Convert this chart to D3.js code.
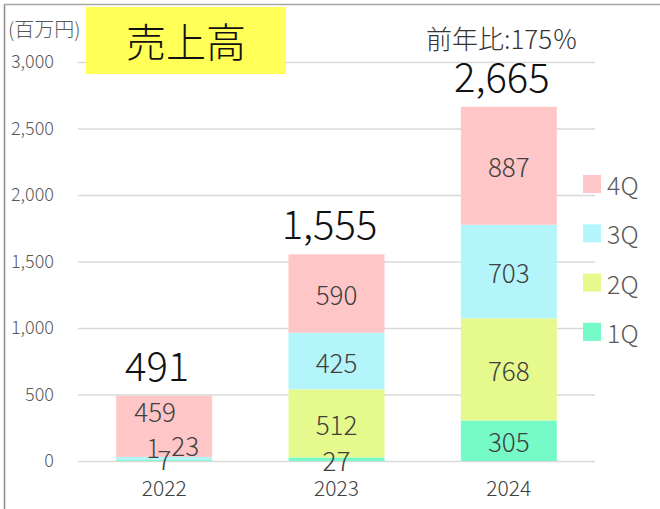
<!DOCTYPE html>
<html>
<head>
<meta charset="utf-8">
<script src="https://cdn.jsdelivr.net/npm/d3@7"></script>
<style>
  body { margin: 0; background: #fff; }
  svg { display: block; font-family: "Noto Sans CJK JP", "Noto Sans", sans-serif; font-weight: 300; }
</style>
</head>
<body>
<div id="chart"></div>
<script>
const years = ["2022", "2023", "2024"];
const quarters = ["1Q", "2Q", "3Q", "4Q"];
const q1 = [7, 27, 305];
const q2 = [1, 512, 768];
const q3 = [23, 425, 703];
const q4 = [459, 590, 887];
const totals = ["491", "1,555", "2,665"];
const yTicks = [0, 500, 1000, 1500, 2000, 2500, 3000];
const title = "売上高";
const unitLabel = "(百万円)";
const growthLabel = "前年比:175％";

const width = 660, height = 509;
const margin = {top: 62, right: 65, bottom: 48, left: 78};
const colors = {"1Q": "#76fac8", "2Q": "#e5f98d", "3Q": "#b3f5fb", "4Q": "#fec6c6"};

const data = years.map((y, i) => ({year: y, "1Q": q1[i], "2Q": q2[i], "3Q": q3[i], "4Q": q4[i], total: totals[i]}));

const svg = d3.select("#chart").append("svg")
    .attr("width", width)
    .attr("height", height);

let x = d3.scaleBand()
    .domain(years)
    .range([margin.left, width - margin.right])
    .paddingInner(0.443)
    .paddingOuter(0.2215);

let y = d3.scaleLinear()
    .domain([0, 3000])
    .range([height - margin.bottom, margin.top]);

let series = d3.stack().keys(quarters)(data);

// frame
svg.append("line").attr("x1", 4.5).attr("x2", 4.5).attr("y1", 4).attr("y2", height)
    .attr("stroke", "#8c8c8c").attr("stroke-width", 1.5);
svg.append("line").attr("x1", 4).attr("x2", width).attr("y1", 4.5).attr("y2", 4.5)
    .attr("stroke", "#a6a6a6").attr("stroke-width", 1.5);

// grid
svg.append("g")
  .selectAll("line")
  .data(yTicks)
  .enter().append("line")
    .attr("x1", margin.left)
    .attr("x2", width - margin.right)
    .attr("y1", d => y(d) + 0.5)
    .attr("y2", d => y(d) + 0.5)
    .attr("stroke", "#d9d9d9")
    .attr("stroke-width", 1.5);

let yAxis = g => g
    .attr("transform", `translate(${margin.left - 24},0)`)
    .call(d3.axisLeft(y).tickValues(yTicks).tickSize(0).tickPadding(0).tickFormat(d3.format(",")))
    .call(g => g.select(".domain").remove())
    .call(g => g.selectAll("text")
        .attr("fill", "#595959")
        .attr("font-size", "18px")
        .attr("font-family", "\"Noto Sans CJK JP\", sans-serif"));
svg.append("g").call(yAxis);

let xAxis = g => g
    .attr("transform", `translate(0,${height - margin.bottom})`)
    .call(d3.axisBottom(x).tickSize(0).tickPadding(20))
    .call(g => g.select(".domain").remove())
    .call(g => g.selectAll("text")
        .attr("fill", "#404040")
        .attr("font-size", "21px")
        .attr("font-family", "\"Noto Sans CJK JP\", sans-serif"));
svg.append("g").call(xAxis);

// bars
svg.append("g")
  .selectAll("g")
  .data(series)
  .enter().append("g")
    .attr("fill", d => colors[d.key])
  .selectAll("rect")
  .data(d => d)
  .enter().append("rect")
    .attr("x", d => x(d.data.year))
    .attr("width", x.bandwidth())
    .attr("y", d => y(d[1]))
    .attr("height", d => y(d[0]) - y(d[1]));

// segment labels (2022 ones were nudged by hand in the original)
const nudge = {
  "2022-4Q": [-9, -16],
  "2022-3Q": [21, -14],
  "2022-2Q": [-11, -14],
  "2022-1Q": [0, -2]
};
series.forEach(s => {
  svg.append("g")
    .selectAll("text")
    .data(s)
    .enter().append("text")
      .attr("x", d => x(d.data.year) + x.bandwidth() / 2 + (nudge[d.data.year + "-" + s.key] || [0, 0])[0])
      .attr("y", d => (y(d[0]) + y(d[1])) / 2 + (nudge[d.data.year + "-" + s.key] || [0, 0])[1])
      .attr("text-anchor", "middle")
      .attr("dominant-baseline", "central")
      .attr("font-size", "26px")
      .attr("fill", "#404040")
      .text(d => d.data[s.key]);
});

// totals
svg.append("g")
  .selectAll("text")
  .data(series[series.length - 1])
  .enter().append("text")
    .attr("x", d => x(d.data.year) + x.bandwidth() / 2 - 7)
    .attr("y", d => y(d[1]) - 32)
    .attr("text-anchor", "middle")
    .attr("dominant-baseline", "central")
    .attr("font-size", "40px")
    .attr("fill", "#111")
    .text(d => d.data.total);

// legend
let legend = svg.append("g")
  .selectAll("g")
  .data(quarters.slice().reverse())
  .enter().append("g")
    .attr("transform", (d, i) => `translate(583,${184 + i * 49.3})`);
legend.append("rect")
    .attr("y", -9)
    .attr("width", 18)
    .attr("height", 18)
    .attr("fill", d => colors[d]);
legend.append("text")
    .attr("x", 24)
    .attr("dominant-baseline", "central")
    .attr("font-size", "25px")
    .attr("fill", "#595959")
    .text(d => d);

// unit label (partly hidden behind the title box, as in the original)
svg.append("text")
    .attr("x", 8)
    .attr("y", 28)
    .attr("dominant-baseline", "central")
    .attr("font-size", "20px")
    .attr("fill", "#595959")
    .text(unitLabel);

// title box
svg.append("rect")
    .attr("x", 86).attr("y", 7)
    .attr("width", 200).attr("height", 67)
    .attr("fill", "#ffff57");
svg.append("text")
    .attr("x", 186)
    .attr("y", 40)
    .attr("text-anchor", "middle")
    .attr("dominant-baseline", "central")
    .attr("font-size", "40px")
    .attr("fill", "#111")
    .text(title);

svg.append("text")
    .attr("x", 502)
    .attr("y", 37)
    .attr("text-anchor", "middle")
    .attr("dominant-baseline", "central")
    .attr("font-size", "26px")
    .attr("fill", "#333")
    .text(growthLabel);
</script>
</body>
</html>
